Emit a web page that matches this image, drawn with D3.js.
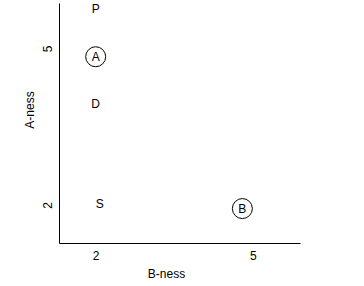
<!DOCTYPE html>
<html>
<head>
<meta charset="utf-8">
<script src="https://cdn.jsdelivr.net/npm/d3@7"></script>
<style>
  body { margin: 0; background: #fff; }
  text { font-family: "Liberation Sans", Arial, sans-serif; }
</style>
</head>
<body>
<div id="chart"></div>
<script>
// points
var names   = ["P", "A", "D", "S", "B"];
var bness   = [2, 2, 2, 2.08, 4.8];
var aness   = [5.77, 4.84, 3.94, 2.02, 1.93];
var circled = [false, true, false, false, true];

var xTicks = [2, 5];
var yTicks = [2, 5];

var W = 364, H = 286;
var margin = {top: 3, right: 64, bottom: 43, left: 59};

var svg = d3.select("#chart")
    .append("svg")
    .attr("width", W)
    .attr("height", H);

var x = d3.scaleLinear().domain([1.3, 5.9]).range([margin.left, W - margin.right]);
var y = d3.scaleLinear().domain([1.27, 5.87]).range([H - margin.bottom, margin.top]);

var xAxis = svg.append("g")
    .attr("transform", "translate(0," + (H - margin.bottom) + ")")
    .call(d3.axisBottom(x).tickValues(xTicks).tickSize(0).tickSizeOuter(0).tickPadding(8).tickFormat(d3.format("d")));

var yAxis = svg.append("g")
    .attr("transform", "translate(" + margin.left + ",0)")
    .call(d3.axisLeft(y).tickValues(yTicks).tickSize(0).tickSizeOuter(0).tickFormat(d3.format("d")));

// y tick labels are turned sideways
yAxis.selectAll(".tick text")
    .attr("transform", "rotate(-90)")
    .attr("x", 0)
    .attr("y", -7)
    .attr("dy", 0)
    .attr("text-anchor", "middle");

svg.selectAll(".domain").attr("stroke", "#000").attr("stroke-width", 1);
svg.selectAll(".tick text").attr("font-size", 12).attr("fill", "#000")
    .style("font-family", "Liberation Sans, Arial, sans-serif");

// axis titles
svg.append("text")
    .attr("x", (margin.left + W - margin.right) / 2 - 13)
    .attr("y", 278)
    .attr("text-anchor", "middle")
    .attr("font-size", 12)
    .text("B-ness");

svg.append("text")
    .attr("transform", "translate(34," + 110 + ") rotate(-90)")
    .attr("text-anchor", "middle")
    .attr("font-size", 12)
    .text("A-ness");

var pts = names.map(function(n, i) {
    return {name: n, b: bness[i], a: aness[i], ring: circled[i]};
});

var g = svg.selectAll("g.pt")
    .data(pts)
    .enter()
    .append("g")
        .attr("class", "pt")
        .attr("transform", function(d) { return "translate(" + x(d.b) + "," + y(d.a) + ")"; });

g.filter(function(d) { return d.ring; })
    .append("circle")
        .attr("r", 10)
        .attr("fill", "none")
        .attr("stroke", "#000")
        .attr("stroke-width", 1);

g.append("text")
    .attr("text-anchor", "middle")
    .attr("dy", "0.36em")
    .attr("font-size", 12)
    .text(function(d) { return d.name; });
</script>
</body>
</html>
